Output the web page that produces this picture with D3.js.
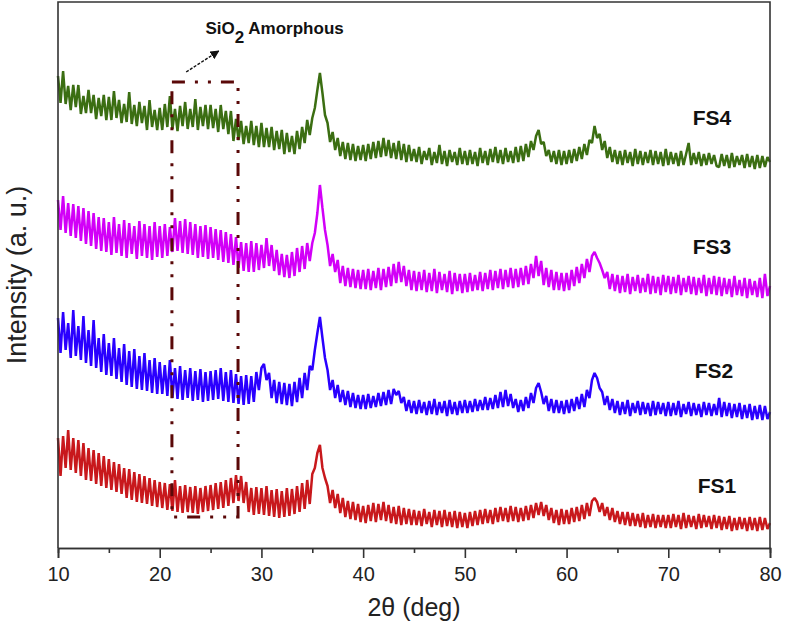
<!DOCTYPE html>
<html><head><meta charset="utf-8">
<script src="https://cdn.jsdelivr.net/npm/d3@7"></script>
<style>html,body{margin:0;padding:0;background:#fff;} svg{display:block;}</style>
</head><body><svg id="chart" width="787" height="624"></svg>
<script>
// 2θ grid of the scans
const twoThetaStart = 10;
const twoThetaStep = 0.25;
const xTicks = [10, 20, 30, 40, 50, 60, 70, 80];
const xMinorTicks = [15, 25, 35, 45, 55, 65, 75];
const seriesNames = ["FS1", "FS2", "FS3", "FS4"];
const seriesColors = ["#c8181c", "#2a00ff", "#d200f8", "#3b6e12"];

// Intensities (a.u., stacked offsets included), one value every 0.25° from 10° to 80°
const fs4 = [
472,445,477,444,462,438,463,441,463,434,452,435,458,435,453,429,450,432,453,428,
451,428,457,430,448,425,444,426,456,424,443,422,446,425,442,418,448,421,438,418,
440,418,444,421,452,419,439,417,442,422,446,419,439,421,449,418,441,422,443,419,
443,420,439,416,443,419,437,414,437,407,429,408,427,404,422,405,427,403,422,401,
425,401,420,401,421,398,417,399,418,394,415,396,412,394,417,399,421,405,428,413,
430,440,458,475,455,433,425,406,416,398,410,392,406,389,405,388,404,387,402,388,
403,387,404,389,406,390,407,391,410,392,408,390,405,389,407,388,404,386,403,387,
399,386,401,384,397,388,400,383,396,385,403,384,397,382,398,386,396,383,400,384,
397,383,398,384,396,382,400,385,397,383,399,386,401,385,398,384,400,386,397,385,
401,386,402,387,404,391,407,398,412,418,404,406,392,398,386,397,384,398,383,397,
384,398,385,399,387,401,389,404,393,408,405,422,410,414,398,407,390,401,386,398,
384,397,383,398,385,396,382,399,384,397,383,396,385,398,383,397,384,396,382,399,
383,396,384,395,382,397,383,394,405,383,395,384,396,382,394,383,395,384,393,382,
381,394,382,393,380,395,381,392,383,393,380,394,381,392,379,393,380,392,381,391,
386];
const fs3 = [
348,318,352,315,345,312,344,310,342,307,340,304,337,302,335,299,331,297,330,296,
326,293,331,295,324,292,328,290,325,294,322,289,327,292,324,290,322,288,326,291,
322,290,324,292,321,296,330,297,327,295,329,294,326,293,324,290,322,291,323,289,
321,290,319,288,318,286,316,285,314,283,311,280,306,277,305,276,307,276,305,278,
303,280,310,282,303,277,298,273,294,271,293,270,296,272,300,276,302,279,305,287,
305,315,335,363,340,318,303,282,294,276,288,265,282,262,280,261,279,260,278,259,
278,259,279,258,277,260,280,258,279,261,281,262,284,265,286,266,282,262,278,258,
277,257,276,258,278,256,275,257,279,255,276,258,274,256,277,254,275,257,274,255,
274,256,275,257,273,258,276,257,275,259,278,258,277,260,279,259,278,261,280,260,
279,261,280,263,282,264,284,270,292,272,287,263,280,261,278,258,276,258,275,257,
275,258,278,262,281,265,284,270,289,276,292,296,290,285,278,270,276,259,274,257,
273,255,272,256,274,254,271,257,273,255,270,256,274,254,272,255,271,253,273,256,
272,254,271,255,273,253,270,256,272,254,271,253,270,255,273,252,270,254,272,253,
271,252,270,254,269,251,272,253,268,252,270,250,269,253,267,251,270,250,274,252,
262];
const fs2 = [
230,195,236,198,225,190,238,192,222,188,232,185,218,182,228,180,210,176,214,173,
205,172,210,169,200,166,204,163,197,161,199,159,192,158,195,157,188,155,190,154,
186,154,183,152,188,150,180,149,182,148,178,150,180,147,177,148,179,146,176,147,
177,148,178,149,180,147,176,146,178,145,174,144,172,143,173,144,172,146,176,158,
180,184,168,175,150,168,145,166,144,165,143,164,142,166,146,170,150,175,158,182,
178,198,215,231,210,190,178,158,168,150,163,146,158,143,157,141,155,140,153,139,
153,139,154,140,152,141,155,142,156,143,158,144,159,153,157,145,151,137,148,135,
147,134,148,135,146,133,147,134,149,133,146,135,147,132,148,134,146,133,147,135,
148,135,147,136,149,137,148,138,151,138,150,139,153,140,156,141,158,142,154,140,
149,136,148,137,151,140,155,145,160,165,156,144,152,137,149,135,148,135,147,134,
148,135,149,137,151,139,154,141,158,150,168,175,170,160,156,143,152,138,149,135,
147,133,146,134,148,132,145,135,147,133,146,134,145,132,147,133,146,134,145,132,
146,132,145,133,147,131,144,134,146,132,145,133,144,131,146,133,145,132,144,133,
150,131,146,132,145,130,144,131,145,129,143,130,144,128,142,129,143,128,142,129,
136];
const fs1 = [
110,72,112,80,118,78,110,75,108,72,105,68,100,67,98,64,95,62,92,60,
89,58,86,56,84,54,80,50,79,48,76,46,74,45,72,44,70,42,68,41,
66,40,65,38,64,37,68,36,62,35,63,36,61,35,62,34,60,36,62,37,
63,38,65,39,66,40,68,42,70,45,73,47,72,45,66,36,60,33,61,34,
60,33,62,32,58,31,59,30,57,31,60,32,59,34,62,36,65,39,68,44,
74,80,95,103,80,70,62,45,58,40,54,35,50,31,47,29,46,28,44,26,
42,25,43,27,45,26,44,28,46,27,43,25,41,24,42,23,40,24,39,23,
38,23,37,22,39,24,36,21,38,23,37,21,38,22,36,21,37,20,36,21,
35,20,36,22,37,23,38,24,39,25,38,24,40,26,41,27,40,26,42,27,
41,26,40,27,42,28,43,30,45,33,46,32,43,28,40,25,38,23,39,24,
38,24,40,26,41,27,43,29,45,32,47,50,46,36,45,32,41,28,40,26,
37,24,36,23,36,22,35,22,34,21,35,20,33,21,34,20,33,21,33,20,
33,20,34,21,33,19,35,20,33,21,32,19,34,20,33,21,32,19,33,20,
32,18,31,19,32,17,30,18,31,19,30,17,31,18,30,17,31,18,30,19,
25];
const seriesValues = [fs1, fs2, fs3, fs4];
// label anchor (2θ, intensity) for each series name
const labelAngle = [72.9, 72.6, 72.4, 72.4];
const labelLevel = [61, 176, 300, 429];

// SiO2 amorphous region annotation (2θ range, intensity range)
const boxAngles = [21.2, 27.7];
const boxLevels = [31, 466];
const arrowFrom = [22.6, 476];
const arrowTo = [25.8, 497];
const noteAt = [24.5, 514];

const svg = d3.select("#chart");
const W = 787, H = 624;
const margin = {left: 58, right: 17, top: 2, bottom: 76};
const x = d3.scaleLinear().domain([10, 80]).range([margin.left, W - margin.right]);
const y = d3.scaleLinear().domain([0, 546]).range([H - margin.bottom, margin.top]);
const font = "'Liberation Sans', Arial, Helvetica, sans-serif";

// traces
const line = d3.line()
  .x((d, i) => x(twoThetaStart + i * twoThetaStep))
  .y(d => y(d));
svg.append("g").selectAll("path").data(seriesValues).join("path")
  .attr("d", d => line(d))
  .attr("fill", "none")
  .attr("stroke", (d, i) => seriesColors[i])
  .attr("stroke-width", 2.5)
  .attr("stroke-linejoin", "bevel");

// frame
svg.append("path")
  .attr("d", `M${x(10)},${y(0)}V${y(546)}H${x(80)}V${y(0)}`)
  .attr("fill", "none").attr("stroke", "#333").attr("stroke-width", 1.6);

// bottom axis
const gx = svg.append("g").attr("transform", `translate(0,${y(0)})`);
gx.call(d3.axisBottom(x).tickValues(xTicks).tickSize(10).tickPadding(9).tickFormat(d3.format("d")));
const gm = svg.append("g").attr("transform", `translate(0,${y(0)})`);
gm.call(d3.axisBottom(x).tickValues(xMinorTicks).tickSize(5).tickFormat(""));
[gx, gm].forEach(g => {
  g.select(".domain").attr("stroke", "#333").attr("stroke-width", 1.6);
  g.selectAll(".tick line").attr("stroke", "#333").attr("stroke-width", 1.6);
});
gx.selectAll(".tick text").attr("font-family", font).attr("font-size", 20).attr("fill", "#222");

// axis titles
svg.append("text").attr("x", (x(10) + x(80)) / 2).attr("y", 616)
  .attr("text-anchor", "middle").attr("font-family", font).attr("font-size", 25).attr("fill", "#222")
  .text("2θ (deg)");
svg.append("text").attr("transform", `translate(26,${(y(0) + y(546)) / 2}) rotate(-90)`)
  .attr("text-anchor", "middle").attr("font-family", font).attr("font-size", 27).attr("fill", "#222")
  .text("Intensity (a. u.)");

// series labels
svg.append("g").selectAll("text").data(seriesNames).join("text")
  .attr("x", (d, i) => x(labelAngle[i]))
  .attr("y", (d, i) => y(labelLevel[i]))
  .attr("font-family", font).attr("font-size", 21).attr("font-weight", "bold")
  .attr("fill", "#111").attr("dominant-baseline", "middle")
  .text(d => d);

// amorphous region box
svg.append("rect")
  .attr("x", x(boxAngles[0])).attr("y", y(boxLevels[1]))
  .attr("width", x(boxAngles[1]) - x(boxAngles[0]))
  .attr("height", y(boxLevels[0]) - y(boxLevels[1]))
  .attr("fill", "none").attr("stroke", "#5a0808").attr("stroke-width", 3)
  .attr("stroke-dasharray", "13,10,3,10,3,10");

// arrow
svg.append("defs").append("marker").attr("id", "ah")
  .attr("viewBox", "0 0 10 10").attr("refX", 9).attr("refY", 5)
  .attr("markerWidth", 9).attr("markerHeight", 9).attr("orient", "auto")
  .attr("markerUnits", "userSpaceOnUse")
  .append("path").attr("d", "M0,0L10,5L0,10Z").attr("fill", "#111");
svg.append("line")
  .attr("x1", x(arrowFrom[0])).attr("y1", y(arrowFrom[1]))
  .attr("x2", x(arrowTo[0])).attr("y2", y(arrowTo[1]))
  .attr("stroke", "#111").attr("stroke-width", 1.4).attr("stroke-dasharray", "3,1.5")
  .attr("marker-end", "url(#ah)");

const note = svg.append("text").attr("x", x(noteAt[0])).attr("y", y(noteAt[1]))
  .attr("font-family", font).attr("font-size", 17).attr("font-weight", "bold").attr("fill", "#111");
note.append("tspan").text("SiO");
note.append("tspan").attr("dy", 9).text("2");
note.append("tspan").attr("dy", -9).text(" Amorphous");
</script>
</body></html>
